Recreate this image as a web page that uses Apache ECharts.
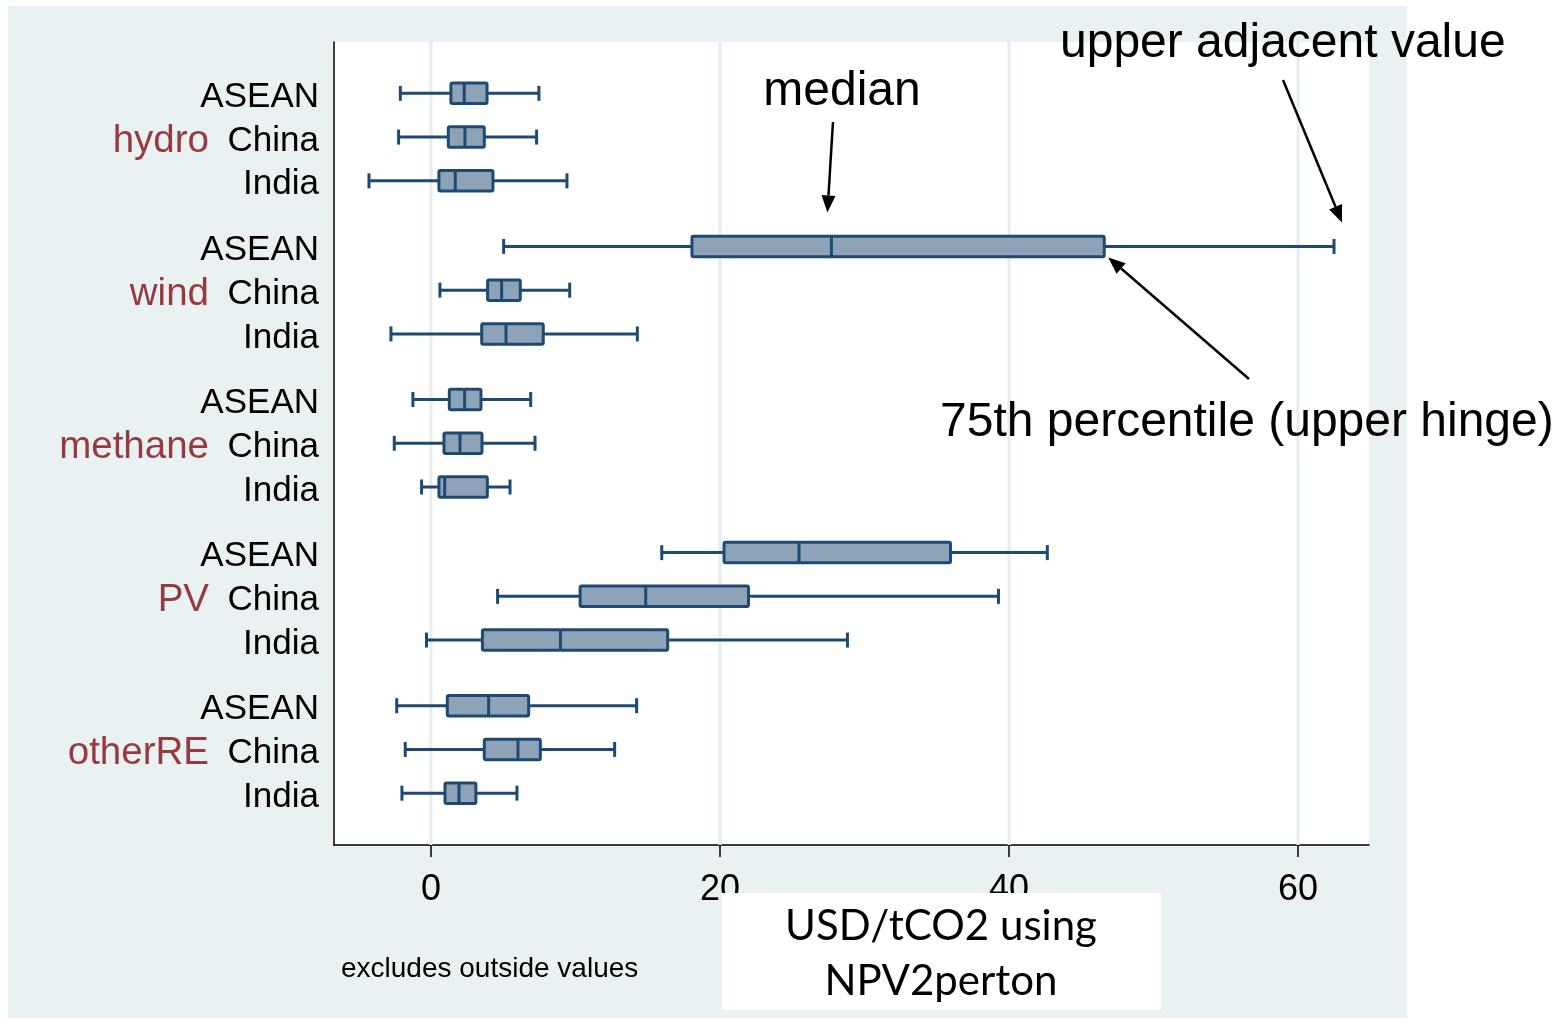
<!DOCTYPE html>
<html>
<head>
<meta charset="utf-8">
<script src="https://cdn.jsdelivr.net/npm/echarts@6/dist/echarts.min.js"></script>
<style>
  html, body { margin: 0; padding: 0; background: #ffffff; }
  #chart { width: 1567px; height: 1019px; }
</style>
</head>
<body>
<div id="chart"></div>
<script>
// Abatement cost distributions by technology and region (USD/tCO2)
const technologies = ['hydro', 'wind', 'methane', 'PV', 'otherRE'];
const regions = ['ASEAN', 'China', 'India'];

// One entry per technology/region row, technology-major order
const whiskerLow  = [-2.12, -2.24, -4.29,   5.03, 0.62, -2.77,  -1.25, -2.54, -0.65,  15.97,  4.61, -0.31,  -2.37, -1.78, -2.01];
const lowerHinge  = [ 1.38,  1.20,  0.55,  18.06, 3.92,  3.51,   1.27,  0.90,  0.55,  20.28, 10.32,  3.56,   1.13,  3.69,  0.97];
const medianValue = [ 2.30,  2.35,  1.68,  27.71, 4.89,  5.19,   2.33,  2.01,  0.95,  25.47, 14.86,  8.96,   3.99,  6.02,  1.94];
const upperHinge  = [ 3.88,  3.69,  4.29,  46.59, 6.18,  7.77,   3.46,  3.53,  3.90,  35.95, 21.97, 16.38,   6.76,  7.57,  3.11];
const whiskerHigh = [ 7.47,  7.31,  9.41,  62.49, 9.60, 14.28,   6.90,  7.20,  5.47,  42.65, 39.27, 28.82,  14.23, 12.71,  5.95];

const xTicks = [0, 20, 40, 60];

const FONT = '"Liberation Sans", Arial, Helvetica, sans-serif';
const BOX_FILL = '#8EA3B8';
const BOX_STROKE = '#1E4A72';
const GROUP_COLOR = '#973A40';

// vertical slot of a row: rows inside a group are 1 apart, groups 3.5 apart
function rowPos(t, r) { return t * 3.5 + r; }

const boxData = [];
const labelData = [];
technologies.forEach((tech, t) => {
  regions.forEach((reg, r) => {
    const i = t * regions.length + r;
    boxData.push([rowPos(t, r), whiskerLow[i], lowerHinge[i], medianValue[i], upperHinge[i], whiskerHigh[i]]);
    labelData.push([rowPos(t, r), t, r]);
  });
});

function renderBox(params, api) {
  const p = api.value(0);
  const lo = api.coord([api.value(1), p]);
  const q1 = api.coord([api.value(2), p]);
  const md = api.coord([api.value(3), p]);
  const q3 = api.coord([api.value(4), p]);
  const hi = api.coord([api.value(5), p]);
  const y = lo[1];
  const h = 10.25, c = 7.5;
  const ls = { stroke: BOX_STROKE, lineWidth: 3, lineCap: 'butt' };
  return {
    type: 'group',
    children: [
      { type: 'line', shape: { x1: lo[0], y1: y, x2: q1[0], y2: y }, style: ls },
      { type: 'line', shape: { x1: q3[0], y1: y, x2: hi[0], y2: y }, style: ls },
      { type: 'line', shape: { x1: lo[0], y1: y - c, x2: lo[0], y2: y + c }, style: ls },
      { type: 'line', shape: { x1: hi[0], y1: y - c, x2: hi[0], y2: y + c }, style: ls },
      { type: 'rect', shape: { x: q1[0], y: y - h, width: q3[0] - q1[0], height: 2 * h, r: 1.5 },
        style: { fill: BOX_FILL, stroke: BOX_STROKE, lineWidth: 3, lineJoin: 'round' } },
      { type: 'line', shape: { x1: md[0], y1: y - h, x2: md[0], y2: y + h }, style: ls }
    ]
  };
}

function renderLabel(params, api) {
  const p = api.value(0);
  const t = api.value(1);
  const r = api.value(2);
  const cs = params.coordSys;
  const y = api.coord([0, p])[1];
  const children = [{
    type: 'text',
    style: { x: cs.x - 15, y: y + 4, text: regions[r], fill: '#000', font: '35px ' + FONT,
             textAlign: 'right', textVerticalAlign: 'middle' }
  }];
  if (r === 1) {
    children.push({
      type: 'text',
      style: { x: cs.x - 125, y: y + 4, text: technologies[t], fill: GROUP_COLOR, font: '38.5px ' + FONT,
               textAlign: 'right', textVerticalAlign: 'middle' }
    });
  }
  return { type: 'group', children: children };
}

function renderGridLine(params, api) {
  const cs = params.coordSys;
  const x = api.coord([api.value(0), 0])[0];
  return {
    type: 'line',
    shape: { x1: x, y1: cs.y, x2: x, y2: cs.y + cs.height },
    style: { stroke: '#E4EDF0', lineWidth: 3 }
  };
}

const chart = echarts.init(document.getElementById('chart'), null, { renderer: 'canvas' });

const option = {
  animation: false,
  backgroundColor: 'transparent',
  grid: { left: 334, top: 42, width: 1035, height: 803, show: true, backgroundColor: '#ffffff', borderWidth: 0 },
  xAxis: {
    type: 'value',
    min: -6.71,
    max: 64.91,
    axisLine: { show: true, onZero: false, lineStyle: { color: '#000', width: 1.5 } },
    axisTick: { show: true, customValues: xTicks, length: 12, lineStyle: { color: '#000', width: 1.5 } },
    axisLabel: { customValues: xTicks, fontSize: 36, color: '#000', fontFamily: FONT, margin: 27 },
    splitLine: { show: false }
  },
  yAxis: {
    type: 'value',
    inverse: true,
    min: -1.174,
    max: 17.185,
    axisLine: { show: true, onZero: false, lineStyle: { color: '#000', width: 1.5 } },
    axisTick: { show: false },
    axisLabel: { show: false },
    splitLine: { show: false }
  },
  series: [
    { type: 'custom', name: 'grid lines', data: xTicks.map(v => [v]), encode: { x: 0 },
      renderItem: renderGridLine, silent: true, z: 1 },
    { type: 'custom', name: 'cost', data: boxData, encode: { x: [1, 2, 3, 4, 5], y: 0 },
      renderItem: renderBox, z: 3 },
    { type: 'custom', name: 'row labels', data: labelData, encode: { y: 0 },
      renderItem: renderLabel, silent: true, clip: false, z: 3 }
  ],
  graphic: [
    { id: 'bg', type: 'rect', z: -100, silent: true,
      shape: { x: 8, y: 6, width: 1399, height: 1012 }, style: { fill: '#E9F1F3' } }
  ]
};

chart.setOption(option);

// annotation arrows point at the wind / ASEAN box
function arrow(id, x1, y1, x2, y2) {
  const ang = Math.atan2(y2 - y1, x2 - x1);
  const len = 17, half = 7;
  const bx = x2 - len * Math.cos(ang), by = y2 - len * Math.sin(ang);
  const px = -Math.sin(ang) * half, py = Math.cos(ang) * half;
  return [
    { id: id + '-line', type: 'line', z: 50, silent: true,
      shape: { x1: x1, y1: y1, x2: bx, y2: by }, style: { stroke: '#000', lineWidth: 2.5 } },
    { id: id + '-head', type: 'polygon', z: 50, silent: true,
      shape: { points: [[x2, y2], [bx + px, by + py], [bx - px, by - py]] }, style: { fill: '#000' } }
  ];
}

const wi = 1 * regions.length + 0;
const wPos = rowPos(1, 0);
const pMed = chart.convertToPixel({ gridIndex: 0 }, [medianValue[wi], wPos]);
const pQ3 = chart.convertToPixel({ gridIndex: 0 }, [upperHinge[wi], wPos]);
const pHi = chart.convertToPixel({ gridIndex: 0 }, [whiskerHigh[wi], wPos]);

const annoFont = '48px ' + FONT;
const titleFont = '42px Lato, "Open Sans", sans-serif';
chart.setOption({
  graphic: [
    { id: 'bg', type: 'rect', z: -100, silent: true,
      shape: { x: 8, y: 6, width: 1399, height: 1012 }, style: { fill: '#E9F1F3' } },
    { id: 'note', type: 'text', z: 50, silent: true,
      style: { x: 341, y: 969, text: 'excludes outside values', fill: '#000', font: '28px ' + FONT,
               textAlign: 'left', textVerticalAlign: 'middle' } },
    { id: 'title-box', type: 'rect', z: 60, silent: true,
      shape: { x: 722, y: 893, width: 439, height: 117 }, style: { fill: '#ffffff' } },
    { id: 'title-1', type: 'text', z: 61, silent: true,
      style: { x: 941, y: 926, text: 'USD/tCO2 using', fill: '#000', font: titleFont,
               textAlign: 'center', textVerticalAlign: 'middle' } },
    { id: 'title-2', type: 'text', z: 61, silent: true,
      style: { x: 941, y: 981, text: 'NPV2perton', fill: '#000', font: titleFont,
               textAlign: 'center', textVerticalAlign: 'middle' } },
    { id: 'anno-median', type: 'text', z: 50, silent: true,
      style: { x: 842, y: 92, text: 'median', fill: '#000', font: annoFont,
               textAlign: 'center', textVerticalAlign: 'middle' } },
    { id: 'anno-adj', type: 'text', z: 50, silent: true,
      style: { x: 1060, y: 44, text: 'upper adjacent value', fill: '#000', font: annoFont,
               textAlign: 'left', textVerticalAlign: 'middle' } },
    { id: 'anno-hinge', type: 'text', z: 50, silent: true,
      style: { x: 940, y: 423, text: '75th percentile (upper hinge)', fill: '#000', font: annoFont,
               textAlign: 'left', textVerticalAlign: 'middle' } }
  ]
    .concat(arrow('a-med', 833, 122, pMed[0] - 4, pMed[1] - 34))
    .concat(arrow('a-adj', 1283, 80, pHi[0] + 8, pHi[1] - 24))
    .concat(arrow('a-hinge', 1249, 379, pQ3[0] + 4, pQ3[1] + 11))
});
</script>
</body>
</html>
